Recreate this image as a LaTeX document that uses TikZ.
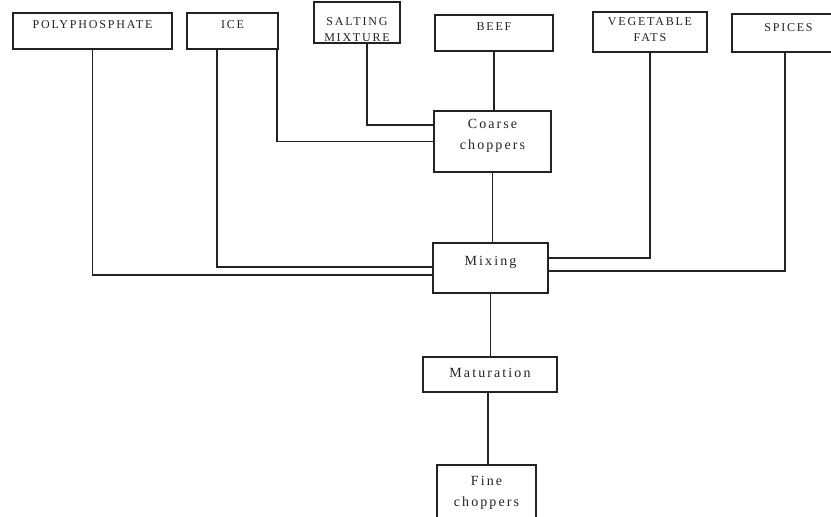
\documentclass[tikz,border=0pt]{standalone}
\usepackage{fontspec}
\setmainfont{Liberation Serif}
\newfontfamily\capfont[LetterSpace=15]{Liberation Serif}
\newfontfamily\lowfont[LetterSpace=15]{Liberation Serif}
\definecolor{ink}{HTML}{222222}
\begin{document}
\begin{tikzpicture}[x=1pt,y=-1pt,
  box/.style={draw=ink, line width=1.6pt, inner sep=0pt},
  capl/.style={font=\capfont\fontsize{12}{16}\selectfont, text=ink, align=center, inner sep=0pt},
  lowl/.style={font=\lowfont\fontsize{14}{21}\selectfont, text=ink, align=center, inner sep=0pt},
  wire/.style={draw=ink, line width=1.3pt}]
\useasboundingbox (0,0) rectangle (831,517);
\clip (0,0) rectangle (831,517);
% top inputs
\node[box, minimum width=159pt, minimum height=36pt,
  label={[capl,yshift=6pt]center:POLYPHOSPHATE}] (poly) at (92.5,31) {};
\node[box, minimum width=91pt, minimum height=36pt,
  label={[capl,yshift=6pt]center:ICE}] (ice) at (232.5,31) {};
\node[box, minimum width=86pt, minimum height=41pt,
  label={[capl,yshift=-7pt]center:SALTING\\MIXTURE}] (salt) at (357,22.5) {};
\node[box, minimum width=118pt, minimum height=36pt,
  label={[capl,yshift=6pt]center:BEEF}] (beef) at (494,33) {};
\node[box, minimum width=114pt, minimum height=40pt,
  label={[capl,yshift=2pt]center:VEGETABLE\\FATS}] (veg) at (650,32) {};
\node[box, minimum width=113pt, minimum height=38pt,
  label={[capl,yshift=5pt]center:SPICES}] (spices) at (788.5,33) {};
% process steps
\node[box, minimum width=117pt, minimum height=61pt,
  label={[lowl,yshift=6pt]center:Coarse\\choppers}] (coarse) at (492.5,141.5) {};
\node[box, minimum width=115pt, minimum height=50pt,
  label={[lowl,yshift=6pt]center:Mixing}] (mix) at (490.5,268) {};
\node[box, minimum width=134pt, minimum height=35pt,
  label={[lowl,yshift=1.5pt]center:Maturation}] (mat) at (490,374.5) {};
\node[box, minimum width=99pt, minimum height=60pt,
  label={[lowl,yshift=2pt]center:Fine\\choppers}] (fine) at (486.5,495) {};
% connectors
\draw[wire] (poly.south) |- ([yshift=-7pt]mix.west);
\draw[wire] ([xshift=-15.5pt]ice.south) |- ([yshift=1pt]mix.west);
\draw[wire] ([xshift=44.5pt]ice.south) |- (coarse.west);
\draw[wire] ([xshift=10pt]salt.south) |- ([yshift=16.5pt]coarse.west);
\draw[wire] (beef.south) -- (beef.south |- coarse.north);
\draw[wire] (coarse.south) -- (coarse.south |- mix.north);
\draw[wire] (veg.south) |- ([yshift=10pt]mix.east);
\draw[wire] ([xshift=-3.5pt]spices.south) |- ([yshift=-3pt]mix.east);
\draw[wire] (mix.south) -- (mix.south |- mat.north);
\draw[wire] ([xshift=-2pt]mat.south) -- ([xshift=-2pt]mat.south |- fine.north);
\end{tikzpicture}
\end{document}
